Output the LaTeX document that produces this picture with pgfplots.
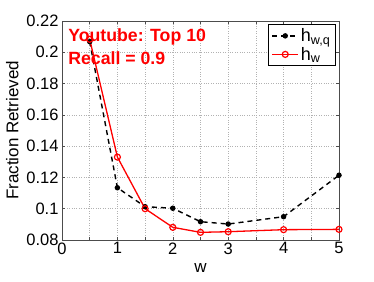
\documentclass[border=0pt]{standalone}
\usepackage{pgfplots}
\pgfplotsset{compat=1.18}
\usepackage{fontspec}
\setmainfont{Liberation Sans}
\begin{document}
\begin{tikzpicture}[x=1pt,y=1pt]
\path[use as bounding box] (0,0) rectangle (374,281);
\begin{axis}[
  at={(62pt,41pt)}, anchor=south west,
  scale only axis, width=277pt, height=219pt,
  xmin=0, xmax=5, ymin=0.08, ymax=0.22,
  xtick={0,0.5,...,5},
  xticklabels={0,,1,,2,,3,,4,,5},
  ytick={0.08,0.1,...,0.221},
  yticklabels={0.08,0.1,0.12,0.14,0.16,0.18,0.2,0.22},
  tick align=inside,
  major tick length=3pt,
  tick style={black!70, line width=0.5pt},
  axis line style={black!70, line width=0.6pt},
  grid=major,
  grid style={dotted, gray!60, line width=0.5pt},
  ticklabel style={font=\fontsize{16.5}{18}\selectfont},
  xticklabel style={yshift=1pt},
  /pgf/number format/assume math mode=true,
  xlabel={w}, ylabel={Fraction Retrieved},
  label style={font=\fontsize{17}{19}\selectfont},
  xlabel style={at={(axis description cs:0.5,0)}, anchor=north, yshift=-20pt},
  ylabel style={at={(axis description cs:0,0.5)}, anchor=south, yshift=40pt},
  legend style={at={(0.988,0.985)}, anchor=north east, draw=black, line width=0.6pt,
    font=\fontsize{18}{20}\selectfont, row sep=0pt, inner xsep=3pt, inner ysep=2pt},
  legend cell align=left,
  legend image code/.code={\draw[mark repeat=2,mark phase=2,#1] plot coordinates {(0pt,0pt) (13pt,0pt) (26pt,0pt)};},
]
\addplot[black, line width=1.4pt, dash pattern=on 5pt off 4pt, mark=*, mark size=2pt, mark options={solid}]
coordinates {(0.5,0.2068) (1,0.1134) (1.5,0.1013) (2,0.1003) (2.5,0.0917) (3,0.0902) (4,0.0949) (5,0.1214)};
\addlegendentry{h\textsubscript{w,q}}
\addplot[red, line width=1.3pt, mark=o, mark size=3pt, mark options={solid, line width=1.2pt}]
coordinates {(0.5,0.2083) (1,0.1330) (1.5,0.1000) (2,0.0881) (2.5,0.0849) (3,0.0853) (4,0.0866) (5,0.0868)};
\addlegendentry{h\textsubscript{w}}
\node[anchor=north west, red, font=\bfseries\fontsize{17.7}{23}\selectfont, align=left, inner sep=0pt]
  at (rel axis cs:0.022,0.965) {Youtube: Top 10\\Recall = 0.9};
\end{axis}
\end{tikzpicture}
\end{document}
